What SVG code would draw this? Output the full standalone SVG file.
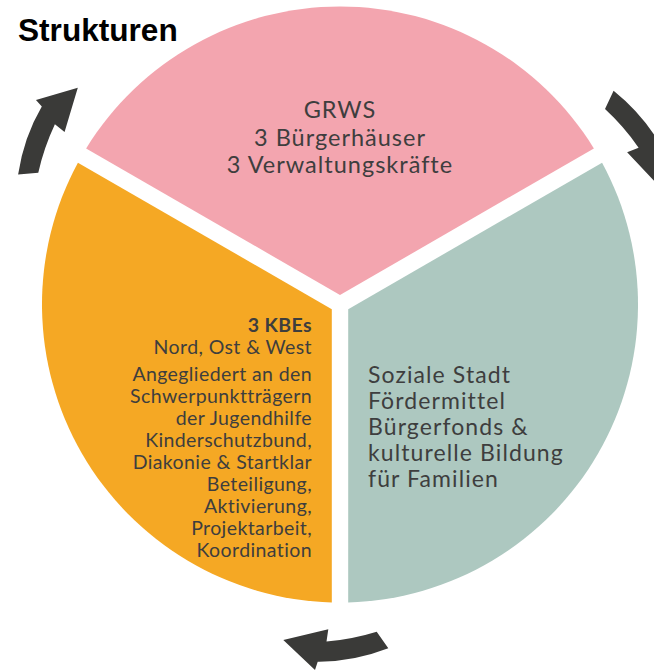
<svg xmlns="http://www.w3.org/2000/svg" xmlns:xlink="http://www.w3.org/1999/xlink" width="654" height="672" viewBox="0 0 654 672">
<style>
.t{font-family:Lato,"Open Sans","Noto Sans",sans-serif;fill:#3e3e3e}
.pk{font-size:23.5px;letter-spacing:1px}
.or{font-size:19.5px;letter-spacing:0.4px}
.tl{font-size:23px;letter-spacing:1.1px}
.arrow{fill:#3a3a38}
</style>
<defs>
<path id="arr" d="M376.7 631.7 Q352.3 639.3 326.5 641.5 L328.3 629.3 L283.3 640 L315 670 L317.7 661.7 Q353 662 388.3 648.3 Z"/>
</defs>
<rect width="654" height="672" fill="#ffffff"/>
<text x="18" y="40.5" style="font-family:'Liberation Sans',Arial,sans-serif;font-weight:bold;font-size:31.6px;fill:#000">Strukturen</text>
<g id="grws">
<path d="M340 295 L86.12 148.45 A298 298 0 0 1 593.88 148.45 Z" fill="#f3a5af"/>
<text class="t pk" text-anchor="middle"><tspan x="340" y="118">GRWS</tspan><tspan x="340" y="146">3 Bürgerhäuser</tspan><tspan x="340" y="173">3 Verwaltungskräfte</tspan></text>
</g>
<g id="kbe">
<path d="M331.8 309.2 L77.92 162.65 A298 298 0 0 0 331.8 602.39 Z" fill="#f5a824"/>
<text class="t or" text-anchor="end"><tspan x="312" y="332" font-weight="bold">3 KBEs</tspan><tspan x="312" y="354">Nord, Ost &amp; West</tspan><tspan x="312" y="381">Angegliedert an den</tspan><tspan x="312" y="403">Schwerpunktträgern</tspan><tspan x="312" y="425">der Jugendhilfe</tspan><tspan x="312" y="447">Kinderschutzbund,</tspan><tspan x="312" y="469">Diakonie &amp; Startklar</tspan><tspan x="312" y="491">Beteiligung,</tspan><tspan x="312" y="513">Aktivierung,</tspan><tspan x="312" y="535">Projektarbeit,</tspan><tspan x="312" y="557">Koordination</tspan></text>
</g>
<g id="soziale-stadt">
<path d="M348.2 309.2 L602.08 162.65 A298 298 0 0 1 348.2 602.39 Z" fill="#adc8c0"/>
<text class="t tl"><tspan x="368" y="383">Soziale Stadt</tspan><tspan x="368" y="409">Fördermittel</tspan><tspan x="368" y="435">Bürgerfonds &amp;</tspan><tspan x="368" y="461">kulturelle Bildung</tspan><tspan x="368" y="487">für Familien</tspan></text>
</g>
<g id="connectors" class="arrow">
<use xlink:href="#arr"/>
<use xlink:href="#arr" transform="rotate(120 340 304.5)"/>
<use xlink:href="#arr" transform="rotate(240 340 304.5)"/>
</g>
</svg>
